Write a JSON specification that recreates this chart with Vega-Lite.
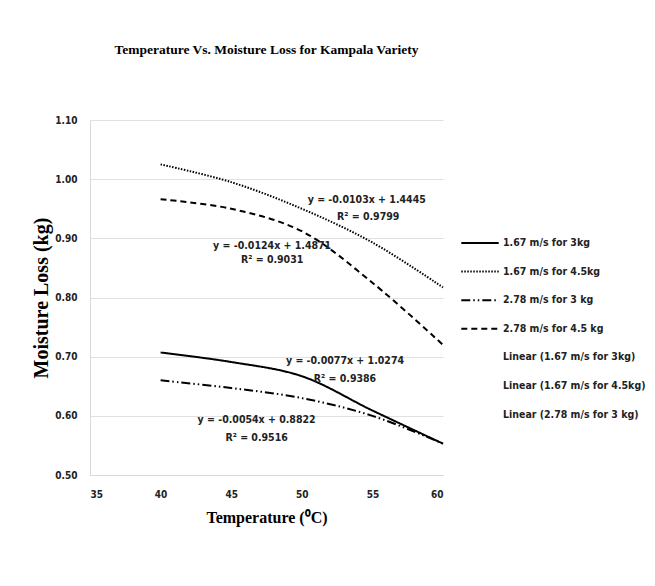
{
  "$schema": "https://vega.github.io/schema/vega-lite/v6.json",
  "autosize": "none",
  "width": 353,
  "height": 355,
  "padding": {"left": 90, "top": 120, "right": 212, "bottom": 111},
  "background": "white",
  "title": {
    "text": "Temperature Vs. Moisture Loss for Kampala Variety",
    "font": "Liberation Serif",
    "fontSize": 13.5,
    "fontWeight": "bold",
    "color": "black",
    "offset": 59
  },
  "config": {
    "view": {"stroke": null},
    "axis": {
      "labelFont": "DejaVu Sans Condensed, Liberation Sans Narrow, sans-serif",
      "labelFontWeight": "bold",
      "labelFontSize": 10,
      "labelColor": "#222222",
      "titleFont": "Liberation Serif",
      "titleFontWeight": "bold",
      "titleFontSize": 16,
      "titleColor": "black",
      "domainColor": "#d9d9d9",
      "gridColor": "#e0e0e0",
      "ticks": false
    }
  },
  "datasets": {
    "lines": [
      {"series": "1.67 m/s for 3kg", "temp": 40, "loss": 0.707},
      {"series": "1.67 m/s for 3kg", "temp": 45, "loss": 0.691},
      {"series": "1.67 m/s for 3kg", "temp": 50, "loss": 0.667},
      {"series": "1.67 m/s for 3kg", "temp": 55, "loss": 0.609},
      {"series": "1.67 m/s for 3kg", "temp": 60, "loss": 0.553},
      {"series": "1.67 m/s for 4.5kg", "temp": 40, "loss": 1.025},
      {"series": "1.67 m/s for 4.5kg", "temp": 45, "loss": 0.995},
      {"series": "1.67 m/s for 4.5kg", "temp": 50, "loss": 0.950},
      {"series": "1.67 m/s for 4.5kg", "temp": 55, "loss": 0.893},
      {"series": "1.67 m/s for 4.5kg", "temp": 60, "loss": 0.817},
      {"series": "2.78 m/s for 3 kg", "temp": 40, "loss": 0.660},
      {"series": "2.78 m/s for 3 kg", "temp": 45, "loss": 0.647},
      {"series": "2.78 m/s for 3 kg", "temp": 50, "loss": 0.630},
      {"series": "2.78 m/s for 3 kg", "temp": 55, "loss": 0.600},
      {"series": "2.78 m/s for 3 kg", "temp": 60, "loss": 0.553},
      {"series": "2.78 m/s for 4.5 kg", "temp": 40, "loss": 0.966},
      {"series": "2.78 m/s for 4.5 kg", "temp": 45, "loss": 0.950},
      {"series": "2.78 m/s for 4.5 kg", "temp": 50, "loss": 0.912},
      {"series": "2.78 m/s for 4.5 kg", "temp": 55, "loss": 0.825},
      {"series": "2.78 m/s for 4.5 kg", "temp": 60, "loss": 0.720}
    ],
    "labels": [
      {"label": "y = -0.0103x + 1.4445", "temp": 54.6, "loss": 0.965},
      {"label": "R² = 0.9799", "temp": 54.7, "loss": 0.936},
      {"label": "y = -0.0124x + 1.4871", "temp": 47.9, "loss": 0.8875},
      {"label": "R² = 0.9031", "temp": 47.9, "loss": 0.8634},
      {"label": "y = -0.0077x + 1.0274", "temp": 53.06, "loss": 0.6927},
      {"label": "R² = 0.9386", "temp": 53.06, "loss": 0.6623},
      {"label": "y = -0.0054x + 0.8822", "temp": 46.8, "loss": 0.593},
      {"label": "R² = 0.9516", "temp": 46.8, "loss": 0.563}
    ]
  },
  "layer": [
    {
      "data": {"name": "lines"},
      "mark": {"type": "line", "interpolate": "catmull-rom", "strokeWidth": 2},
      "encoding": {
        "x": {
          "field": "temp",
          "type": "quantitative",
          "scale": {"domain": [35, 60], "nice": false},
          "axis": {"values": [35, 40, 45, 50, 55, 60], "grid": false, "labelPadding": 14, "title": "Temperature (⁰C)", "titlePadding": 10}
        },
        "y": {
          "field": "loss",
          "type": "quantitative",
          "scale": {"domain": [0.5, 1.1], "nice": false, "zero": false},
          "axis": {"values": [0.5, 0.6, 0.7, 0.8, 0.9, 1.0, 1.1], "format": ".2f", "labelPadding": 13, "title": "Moisture Loss (kg)", "titleFontSize": 20, "titlePadding": 3}
        },
        "detail": {"field": "series"},
        "strokeDash": {
          "field": "series",
          "type": "nominal",
          "scale": {
            "domain": ["1.67 m/s for 3kg", "1.67 m/s for 4.5kg", "2.78 m/s for 3 kg", "2.78 m/s for 4.5 kg", "Linear (1.67 m/s for 3kg)", "Linear (1.67 m/s for 4.5kg)", "Linear (2.78 m/s for 3 kg)"],
            "range": [[1, 0], [1.5, 1.5], [9, 3, 1.5, 3, 1.5, 3], [6, 4], [1, 0], [1, 0], [1, 0]]
          },
          "legend": null
        },
        "color": {
          "field": "series",
          "type": "nominal",
          "scale": {
            "domain": ["1.67 m/s for 3kg", "1.67 m/s for 4.5kg", "2.78 m/s for 3 kg", "2.78 m/s for 4.5 kg", "Linear (1.67 m/s for 3kg)", "Linear (1.67 m/s for 4.5kg)", "Linear (2.78 m/s for 3 kg)"],
            "range": ["black", "black", "black", "black", "transparent", "transparent", "transparent"]
          },
          "legend": {
            "title": null,
            "orient": "none",
            "legendX": 370,
            "legendY": 103,
            "symbolType": "stroke",
            "symbolSize": 1400,
            "symbolStrokeWidth": 2,
            "symbolDash": {"expr": "datum.value == '1.67 m/s for 4.5kg' ? [1.5,1.5] : datum.value == '2.78 m/s for 3 kg' ? [9,3,1.5,3,1.5,3] : datum.value == '2.78 m/s for 4.5 kg' ? [6,4] : [1,0]"},
            "labelFont": "DejaVu Sans Condensed, Liberation Sans Narrow, sans-serif",
            "labelFontWeight": "bold",
            "labelFontSize": 10.5,
            "labelColor": "#222222",
            "labelOffset": 3,
            "rowPadding": 2.6,
            "labelLimit": 300
          }
        }
      }
    },
    {
      "data": {"name": "labels"},
      "mark": {"type": "text", "font": "DejaVu Sans Condensed, Liberation Sans Narrow, sans-serif", "fontWeight": "bold", "fontSize": 10.5, "color": "#222222", "align": "center", "baseline": "middle"},
      "encoding": {
        "x": {"field": "temp", "type": "quantitative"},
        "y": {"field": "loss", "type": "quantitative"},
        "text": {"field": "label"}
      }
    }
  ]
}
